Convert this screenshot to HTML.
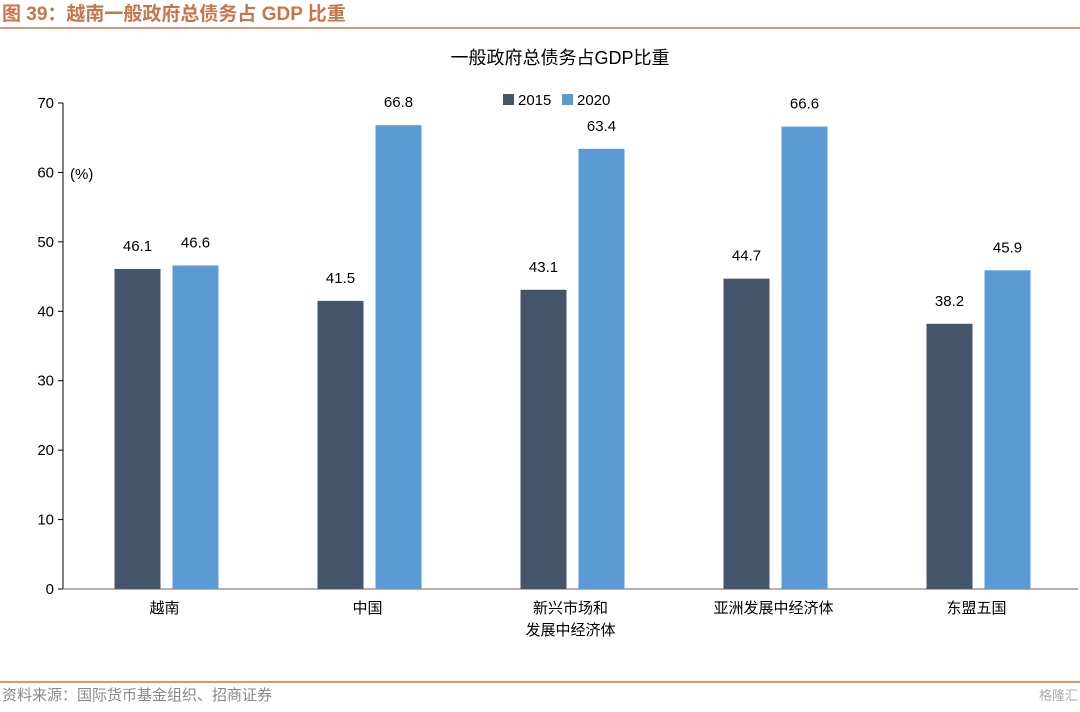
<!DOCTYPE html>
<html><head><meta charset="utf-8">
<style>
body{margin:0;background:#fff;width:1080px;height:707px;overflow:hidden;font-family:"Liberation Sans","Noto Sans CJK SC",sans-serif;}
svg text{font-family:"Liberation Sans","Noto Sans CJK SC",sans-serif;}
</style></head><body>
<svg width="1080" height="707">
<text x="2" y="20" font-size="19" font-weight="bold" fill="#c8754a">图 39：越南一般政府总债务占 GDP 比重</text>
<line x1="0" y1="28" x2="1080" y2="28" stroke="#c8754a" stroke-width="1.5"/>
<text x="560" y="64" font-size="18" text-anchor="middle" fill="#000">一般政府总债务占GDP比重</text>
<g id="axes"></g>
<g id="bars"></g>
<rect x="503" y="94" width="11" height="11" fill="#44546a"/>
<text x="518" y="105" font-size="15">2015</text>
<rect x="562" y="94" width="11" height="11" fill="#5b9bd5"/>
<text x="577" y="105" font-size="15">2020</text>
<text x="70" y="179" font-size="15">(%)</text>
<line x1="0" y1="682" x2="1080" y2="682" stroke="#c8754a" stroke-width="1.5"/>
<text x="2" y="700" font-size="15" fill="#888">资料来源：国际货币基金组织、招商证券</text>
<text x="1078" y="700" font-size="13" fill="#aaa" text-anchor="end">格隆汇</text>
</svg>
<script>
const categories=[["越南"],["中国"],["新兴市场和","发展中经济体"],["亚洲发展中经济体"],["东盟五国"]];
const values2015=[46.1,41.5,43.1,44.7,38.2];
const values2020=[46.6,66.8,63.4,66.6,45.9];
const yTicks=[0,10,20,30,40,50,60,70];
const NS="http://www.w3.org/2000/svg";
const x0=63,x1=1078,y0=589,yTop=103,yMax=70;
const band=(x1-x0)/categories.length;
const yS=v=>y0-(v/yMax)*(y0-yTop);
const cx=i=>x0+band*(i+0.5);
function mk(tag,attrs,parent,txt){const e=document.createElementNS(NS,tag);for(const k in attrs)e.setAttribute(k,attrs[k]);if(txt!=null)e.textContent=txt;parent.appendChild(e);return e;}
const ax=document.getElementById('axes'),bg=document.getElementById('bars');
let l=mk('line',{x1:x0,y1:yTop,x2:x0,y2:y0,stroke:'#000'},ax);


l=mk('line',{x1:x0,y1:y0,x2:x1,y2:y0,stroke:'#999','stroke-width':1.5},ax);


yTicks.forEach(t=>{
 const y=yS(t);
 let tk=mk('line',{x1:x0-5,y1:y,x2:x0,y2:y,stroke:'#000'},ax);
 
 
 let tl=mk('text',{x:54,y:y+5,'font-size':15,'text-anchor':'end'},ax,String(t));
 
 
});
categories.forEach((c,i)=>{
 c.forEach((s,j)=>{
  let t=mk('text',{x:cx(i),y:613+j*22,'font-size':15,'text-anchor':'middle'},ax,s);
  
  
 });
 [[values2015,-50,'#44546a','2015'],[values2020,8,'#5b9bd5','2020']].forEach(([arr,off,col,nm])=>{
  const v=arr[i],x=cx(i)+off,y=yS(v);
  let r=mk('rect',{x:x,y:y,width:46,height:y0-y,fill:col},bg);
  
  
  let t=mk('text',{x:x+23,y:y-18,'font-size':15,'text-anchor':'middle'},bg,v.toFixed(1));
  
  
 });
});
</script>
</body></html>
